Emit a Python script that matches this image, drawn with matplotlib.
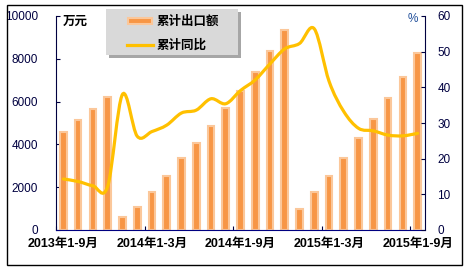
import matplotlib.pyplot as plt
import numpy as np
from matplotlib.patches import Rectangle
from matplotlib.path import Path
from matplotlib.patches import PathPatch
from matplotlib.lines import Line2D

# cumulative export value (10k yuan) and cumulative YoY growth (%)
periods = ['2013年1-9月', '2013年1-10月', '2013年1-11月', '2013年1-12月',
           '2014年1月', '2014年1-2月', '2014年1-3月', '2014年1-4月', '2014年1-5月',
           '2014年1-6月', '2014年1-7月', '2014年1-8月', '2014年1-9月', '2014年1-10月',
           '2014年1-11月', '2014年1-12月',
           '2015年1月', '2015年1-2月', '2015年1-3月', '2015年1-4月', '2015年1-5月',
           '2015年1-6月', '2015年1-7月', '2015年1-8月', '2015年1-9月']
export_value = [4600, 5130, 5650, 6200,
                620, 1060, 1780, 2540, 3360, 4080, 4860, 5700, 6500, 7400, 8350, 9350,
                980, 1760, 2540, 3380, 4310, 5180, 6160, 7140, 8260]
yoy_growth = [14.3, 13.6, 12.4, 12.2,
              38.0, 26.3, 27.6, 29.4, 32.8, 33.6, 36.8, 35.4, 39.1, 42.1, 46.6, 50.8,
              52.3, 56.4, 41.7, 33.2, 28.5, 27.8, 26.6, 26.4, 27.1]
label_idx = [0, 6, 12, 18, 24]

W, H = 465, 271
fig = plt.figure(figsize=(W / 100, H / 100), dpi=100)

def fx(px):
    return px / W

def fy(py):
    return 1 - py / H

ax = fig.add_axes([fx(56), fy(230), fx(425) - fx(56), fy(16) - fy(230)])
x = np.arange(len(periods))

navy = '#000040'
orange = '#F79646'
peach = '#FBC79A'
gold = '#FFC000'
num_font = ['Liberation Sans', 'Noto Sans CJK SC']

ax.bar(x, export_value, width=0.45, color=orange, edgecolor=peach, linewidth=1.5, zorder=2)
ax.set_xlim(-0.5, len(periods) - 0.5)
ax.set_ylim(0, 10000)
ax.set_yticks(range(0, 10001, 2000))
ax.set_xticks(np.arange(-0.5, len(periods), 6))
ax.set_xticklabels([])
ax.set_xticks(label_idx, minor=True)
ax.set_xticklabels([periods[i] for i in label_idx], minor=True,
                   fontfamily=num_font, fontweight='bold', fontsize=9)
ax.tick_params(axis='x', which='major', direction='in', length=3, color=navy)
ax.tick_params(axis='x', which='minor', length=0, pad=6)
ax.tick_params(axis='y', direction='in', length=3, pad=13, labelsize=8.5,
               labelcolor=navy, color=navy)
for lab in ax.get_yticklabels():
    lab.set_fontfamily(num_font)
ax.spines['top'].set_visible(False)
ax.spines['right'].set_visible(False)
ax.spines['left'].set_color(navy)
ax.spines['bottom'].set_color('#000080')

ax2 = ax.twinx()
ax2.set_ylim(0, 60)
ax2.set_yticks(range(0, 61, 10))
ax2.tick_params(axis='y', direction='in', length=3, pad=9, labelsize=8.5,
                labelcolor=navy, color=navy)
for lab in ax2.get_yticklabels():
    lab.set_fontfamily(num_font)
for s in ['top', 'left', 'bottom']:
    ax2.spines[s].set_visible(False)
ax2.spines['right'].set_color(navy)

# smoothed line like Excel (bezier through the points)
pts = np.column_stack([x, yoy_growth]).astype(float)
verts = [pts[0]]
codes = [Path.MOVETO]
n = len(pts)
for i in range(n - 1):
    p0 = pts[max(i - 1, 0)]
    p1 = pts[i]
    p2 = pts[i + 1]
    p3 = pts[min(i + 2, n - 1)]
    verts += [p1 + (p2 - p0) / 6, p2 - (p3 - p1) / 6, p2]
    codes += [Path.CURVE4] * 3
ax2.add_patch(PathPatch(Path(verts, codes), facecolor='none', edgecolor=gold,
                        linewidth=2.3, capstyle='round', zorder=3))

# unit labels
cjk_bold = dict(fontfamily=['Noto Sans CJK SC'], fontweight='bold', fontsize=9)
fig.text(fx(63), fy(21), '万元', va='center', ha='left', color='black', **cjk_bold)
fig.text(fx(408), fy(19), '%', va='center', ha='left', color='#1F4E9A',
         fontsize=8.5, fontfamily=num_font)

# legend box with shadow
fig.patches.append(Rectangle((fx(109), fy(58)), fx(238) - fx(106), fy(9) - fy(55),
                             transform=fig.transFigure, facecolor='#A6A6A6',
                             edgecolor='none', zorder=5))
fig.patches.append(Rectangle((fx(106), fy(55)), fx(238) - fx(106), fy(9) - fy(55),
                             transform=fig.transFigure, facecolor='#D9D9D9',
                             edgecolor='none', zorder=6))
fig.patches.append(Rectangle((fx(128), fy(24)), fx(152) - fx(128), fy(18) - fy(24),
                             transform=fig.transFigure, facecolor=orange,
                             edgecolor=peach, linewidth=1.5, zorder=7))
fig.lines.append(Line2D([fx(127), fx(153)], [fy(45), fy(45)], transform=fig.transFigure,
                        color=gold, linewidth=2.3, zorder=7))
fig.text(fx(157), fy(21), '累计出口额', va='center', ha='left', zorder=8, **cjk_bold)
fig.text(fx(157), fy(45), '累计同比', va='center', ha='left', zorder=8, **cjk_bold)

# outer frame
fig.patches.append(Rectangle((fx(6.5), fy(264.5)), fx(461.5) - fx(6.5), fy(5) - fy(264.5),
                             transform=fig.transFigure, facecolor='none',
                             edgecolor='black', linewidth=1, zorder=9))

fig.savefig('out.png', dpi=100)
